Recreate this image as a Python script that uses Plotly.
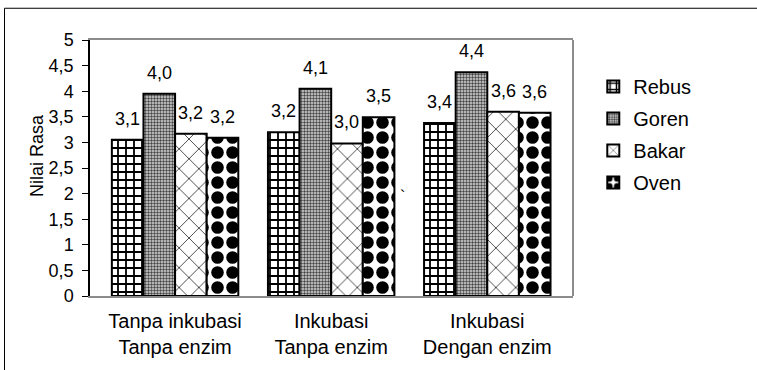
import plotly.graph_objects as go

categories = ["Tanpa inkubasi<br>Tanpa enzim", "Inkubasi<br>Tanpa enzim", "Inkubasi<br>Dengan enzim"]
series_names = ["Rebus", "Goren", "Bakar", "Oven"]
rebus = [3.05, 3.20, 3.38]
goren = [3.95, 4.05, 4.37]
bakar = [3.17, 2.98, 3.60]
oven = [3.09, 3.49, 3.58]
rebus_labels = ["3,1", "3,2", "3,4"]
goren_labels = ["4,0", "4,1", "4,4"]
bakar_labels = ["3,2", "3,0", "3,6"]
oven_labels = ["3,2", "3,5", "3,6"]
y_tickvals = [0, 0.5, 1, 1.5, 2, 2.5, 3, 3.5, 4, 4.5, 5]
y_ticktext = ["0", "0,5", "1", "1,5", "2", "2,5", "3", "3,5", "4", "4,5", "5"]

values = [rebus, goren, bakar, oven]
labels = [rebus_labels, goren_labels, bakar_labels, oven_labels]

FONT = "Liberation Sans, Arial, sans-serif"

patterns = [
    dict(shape="+", fgcolor="#000000", bgcolor="#ffffff", size=8, solidity=0.4, fgopacity=1),
    dict(shape=".", fgcolor="#444444", bgcolor="#d8d8d8", size=3, solidity=0.5, fgopacity=1),
    dict(shape="x", fgcolor="#333333", bgcolor="#ffffff", size=14, solidity=0.12, fgopacity=1),
    dict(shape=".", fgcolor="#000000", bgcolor="#ffffff", size=15, solidity=0.55, fgopacity=1),
]

bargap = 0.19
fig = go.Figure()
for j, (name, vals) in enumerate(zip(series_names, values)):
    fig.add_trace(go.Bar(
        name=name, x=categories, y=vals,
        marker=dict(color="#ffffff", pattern=patterns[j],
                    line=dict(color="#000000", width=2)),
        legendgroup=name,
    ))

n = len(series_names)
w = (1 - bargap) / n
annotations = []
for j in range(n):
    for i in range(len(categories)):
        annotations.append(dict(
            x=i + (j - (n - 1) / 2) * w, y=values[j][i], xref="x", yref="y",
            text=labels[j][i], showarrow=False, yanchor="bottom", yshift=9,
            font=dict(family=FONT, size=18, color="#000000"),
        ))

annotations.append(dict(
    x=0, y=0.547, xref="paper", yref="paper", xshift=-53, text="Nilai Rasa",
    textangle=-90, showarrow=False, xanchor="center", yanchor="middle",
    font=dict(family=FONT, size=18, color="#000000"),
))
annotations.append(dict(
    x=0.646, y=0.388, xref="paper", yref="paper", text="`", showarrow=False,
    font=dict(family=FONT, size=16, color="#000000"),
))

shapes = [
    dict(type="line", xref="paper", yref="paper", x0=1, x1=1, y0=0, y1=1,
         line=dict(color="#8c8c8c", width=2)),
    dict(type="line", xref="paper", yref="paper", x0=-0.177, x1=1.5, y0=1.124, y1=1.124,
         line=dict(color="#000000", width=1)),
    dict(type="line", xref="paper", yref="paper", x0=-0.177, x1=-0.177, y0=1.124, y1=-0.5,
         line=dict(color="#000000", width=1)),
]

fig.update_layout(
    width=757, height=370,
    margin=dict(l=90, r=184, t=40, b=72),
    paper_bgcolor="#ffffff", plot_bgcolor="#ffffff",
    barmode="group", bargap=bargap, bargroupgap=0,
    font=dict(family=FONT, size=16, color="#000000"),
    showlegend=True,
    legend=dict(x=1.042, y=0.895, xanchor="left", yanchor="top",
                font=dict(family=FONT, size=20, color="#000000"),
                tracegroupgap=3, bgcolor="rgba(0,0,0,0)"),
    annotations=annotations, shapes=shapes,
)
fig.update_xaxes(
    type="category", range=[-0.545, 2.549], showgrid=False,
    showline=True, linecolor="#8c8c8c", linewidth=2, mirror=True,
    ticks="", ticklabelstandoff=6,
    tickfont=dict(family=FONT, size=20, color="#000000"),
)
fig.update_yaxes(
    range=[0, 5], tickvals=y_tickvals, ticktext=y_ticktext, showgrid=False,
    zeroline=False, showline=True, linecolor="#000000", linewidth=1.5,
    ticks="outside", ticklen=6, tickcolor="#000000", tickwidth=1,
    ticklabelstandoff=5,
    tickfont=dict(family=FONT, size=18, color="#000000"),
)

fig.write_html("out.html")
